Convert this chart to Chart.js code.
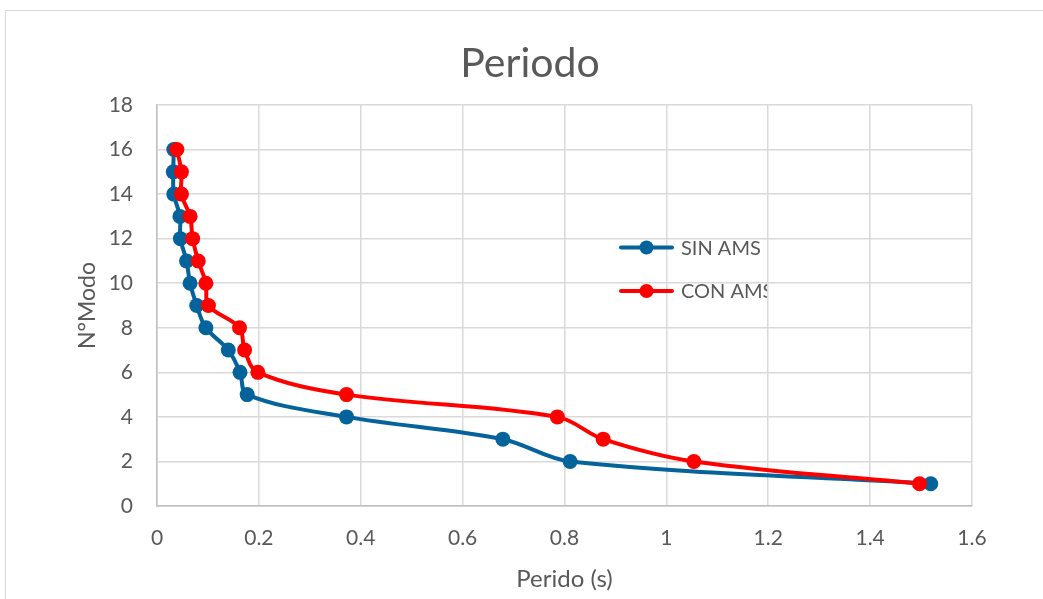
<!DOCTYPE html>
<html>
<head>
<meta charset="utf-8">
<script src="https://cdn.jsdelivr.net/npm/chart.js@4/dist/chart.umd.min.js"></script>
<style>
  html, body { margin: 0; padding: 0; background: #fff; overflow: hidden; }
  #frame { position: absolute; left: 5px; top: 10px; width: 1100px; height: 700px; border: 1px solid #d9d9d9; box-sizing: border-box; }
  #c { position: absolute; left: 0; top: 0; }
</style>
</head>
<body>
<div id="frame"></div>
<canvas id="c" width="1043" height="599"></canvas>
<script>
const chartTitle = "Periodo";
const xAxisTitle = "Perido (s)";
const yAxisTitle = "N°Modo";
const seriesNames = ["SIN AMS", "CON AMS"];
const seriesColors = ["#03639A", "#FF0000"];
const modes = [1, 2, 3, 4, 5, 6, 7, 8, 9, 10, 11, 12, 13, 14, 15, 16];
const sinAms = [1.519, 0.811, 0.679, 0.372, 0.177, 0.163, 0.140, 0.096, 0.078, 0.065, 0.058, 0.046, 0.045, 0.033, 0.032, 0.033];
const conAms = [1.497, 1.054, 0.876, 0.786, 0.372, 0.198, 0.172, 0.162, 0.101, 0.096, 0.081, 0.070, 0.065, 0.048, 0.048, 0.039];

const FONT = "Lato, 'Open Sans', sans-serif";
const TXT = "#595959";

function toPoints(xs) { return xs.map((x, i) => ({ x: x, y: modes[i] })); }

const titlePlugin = {
  id: 'pageTitle',
  afterDraw(chart) {
    const ctx = chart.ctx;
    ctx.save();
    ctx.fillStyle = TXT;
    ctx.font = "41px " + FONT;
    ctx.textAlign = 'center';
    ctx.textBaseline = 'alphabetic';
    ctx.fillText(chartTitle, 530, 77);
    ctx.restore();
  }
};

const legendPlugin = {
  id: 'insideLegend',
  afterDatasetsDraw(chart) {
    const ctx = chart.ctx;
    ctx.save();
    ctx.beginPath();
    ctx.rect(0, 0, 767, 599);
    ctx.clip();
    const rows = [247.5, 291];
    seriesNames.forEach((name, i) => {
      const y = rows[i];
      ctx.strokeStyle = seriesColors[i];
      ctx.lineWidth = 4;
      ctx.lineCap = 'round';
      ctx.beginPath();
      ctx.moveTo(621, y);
      ctx.lineTo(672, y);
      ctx.stroke();
      ctx.fillStyle = seriesColors[i];
      ctx.beginPath();
      ctx.arc(646.5, y, 7, 0, Math.PI * 2);
      ctx.fill();
      ctx.fillStyle = TXT;
      ctx.font = "20px " + FONT;
      ctx.textBaseline = 'middle';
      ctx.textAlign = 'left';
      ctx.fillText(name, 681, y + 1);
    });
    ctx.restore();
  }
};

new Chart(document.getElementById('c'), {
  type: 'scatter',
  data: {
    datasets: [
      {
        label: seriesNames[0],
        data: toPoints(sinAms),
        showLine: true,
        borderColor: seriesColors[0],
        backgroundColor: seriesColors[0],
        borderWidth: 4,
        pointRadius: 7.5,
        pointHoverRadius: 7.5,
        pointBorderWidth: 0,
        tension: 0.35,
        order: 1
      },
      {
        label: seriesNames[1],
        data: toPoints(conAms),
        showLine: true,
        borderColor: seriesColors[1],
        backgroundColor: seriesColors[1],
        borderWidth: 4,
        pointRadius: 7.5,
        pointHoverRadius: 7.5,
        pointBorderWidth: 0,
        tension: 0.35,
        order: 0
      }
    ]
  },
  options: {
    responsive: false,
    animation: false,
    devicePixelRatio: 1,
    layout: { padding: { left: 0, right: 71, top: 105, bottom: 0 } },
    plugins: {
      legend: { display: false },
      tooltip: { enabled: false },
      title: { display: false }
    },
    scales: {
      x: {
        type: 'linear',
        min: 0, max: 1.6,
        ticks: {
          stepSize: 0.2,
          color: TXT,
          font: { family: FONT, size: 21 },
          padding: 20,
          callback: v => String(Math.round(v * 10) / 10)
        },
        grid: { color: '#d9d9d9', lineWidth: 1.5, drawTicks: false },
        border: { color: '#bfbfbf', width: 1.5 },
        title: {
          display: true,
          text: xAxisTitle,
          color: TXT,
          font: { family: FONT, size: 24, lineHeight: 1.2 },
          padding: { top: 0, bottom: 5.6 }
        },
        afterFit(scale) { scale.height = 93; }
      },
      y: {
        type: 'linear',
        min: 0, max: 18,
        ticks: {
          stepSize: 2,
          color: TXT,
          font: { family: FONT, size: 21 },
          padding: 24
        },
        grid: { color: '#d9d9d9', lineWidth: 1.5, drawTicks: false },
        border: { color: '#bfbfbf', width: 1.5 },
        title: {
          display: true,
          text: yAxisTitle,
          color: TXT,
          font: { family: FONT, size: 23, lineHeight: 1.2 },
          padding: { top: 74.2, bottom: 0 }
        },
        afterFit(scale) { scale.width = 157; }
      }
    }
  },
  plugins: [legendPlugin, titlePlugin]
});
</script>
</body>
</html>
